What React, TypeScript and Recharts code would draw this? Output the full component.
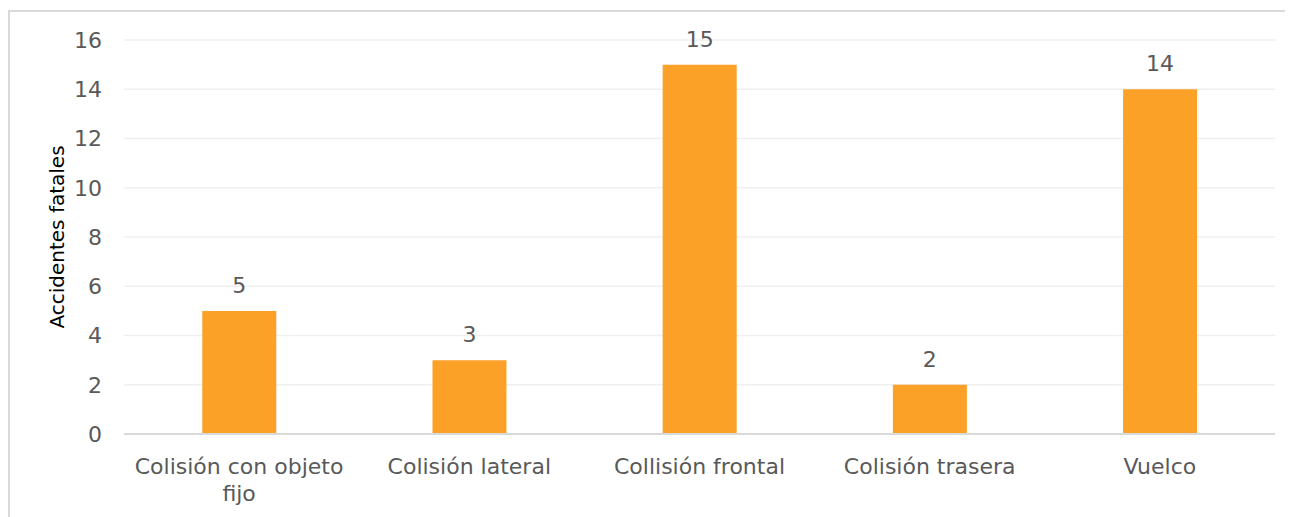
import React from "react";
import { BarChart, Bar, XAxis, YAxis, CartesianGrid, LabelList } from "recharts";

const categories = [
  "Colisión con objeto fijo",
  "Colisión lateral",
  "Collisión frontal",
  "Colisión trasera",
  "Vuelco",
];
const values = [5, 3, 15, 2, 14];
const yTicks = [0, 2, 4, 6, 8, 10, 12, 14, 16];

const data = categories.map((c, i) => ({ name: c, value: values[i] }));

const FONT = "'DejaVu Sans', sans-serif";
const TEXT = "#595959";
const MAX_CHARS = 20;

function wrapWords(s: string): string[] {
  const words = s.split(" ");
  const lines: string[] = [];
  let cur = "";
  for (const w of words) {
    const next = cur ? cur + " " + w : w;
    if (next.length > MAX_CHARS && cur) {
      lines.push(cur);
      cur = w;
    } else {
      cur = next;
    }
  }
  if (cur) lines.push(cur);
  return lines;
}

const XTick = (props: any) => {
  const { x, y, payload } = props;
  const lines = wrapWords(String(payload.value));
  return (
    <text
      x={x}
      y={y + 32}
      textAnchor="middle"
      fill={TEXT}
      fontSize={22}
      fontFamily={FONT}
    >
      {lines.map((l, i) => (
        <tspan key={i} x={x} dy={i === 0 ? 0 : 27}>
          {l}
        </tspan>
      ))}
    </text>
  );
};

export default function App() {
  return (
    <div
      style={{
        position: "relative",
        width: 1285,
        height: 509,
        fontFamily: FONT,
      }}
    >
      <div
        style={{
          position: "absolute",
          left: 0,
          top: 2,
          width: 1285,
          height: 509,
          borderLeft: "2px solid #d9d9d9",
          borderTop: "2px solid #d9d9d9",
          boxSizing: "border-box",
        }}
      />
      <div style={{ position: "absolute", left: 0, top: 0 }}>
        <BarChart
          width={1285}
          height={509}
          data={data}
          margin={{ top: 32, right: 18, left: 0, bottom: 0 }}
          barCategoryGap="34%"
        >
          <CartesianGrid vertical={false} stroke="#efefef" strokeWidth={1.5} />
          <XAxis
            dataKey="name"
            height={83}
            tickLine={false}
            axisLine={{ stroke: "#d9d9d9", strokeWidth: 2 }}
            tick={<XTick />}
            interval={0}
          />
          <YAxis
            width={116}
            domain={[0, 16]}
            ticks={yTicks}
            tickLine={false}
            axisLine={false}
            tickMargin={16}
            tick={{ fill: TEXT, fontSize: 22, fontFamily: FONT }}
            label={{
              value: "Accidentes fatales",
              angle: -90,
              position: "insideLeft",
              dx: 44,
              fill: "#000",
              fontSize: 20,
              fontFamily: FONT,
              style: { textAnchor: "middle" },
            }}
          />
          <Bar dataKey="value" fill="#FCA127" isAnimationActive={false}>
            <LabelList
              dataKey="value"
              position="top"
              offset={18}
              fill={TEXT}
              fontSize={22}
              fontFamily={FONT}
            />
          </Bar>
        </BarChart>
      </div>
    </div>
  );
}
